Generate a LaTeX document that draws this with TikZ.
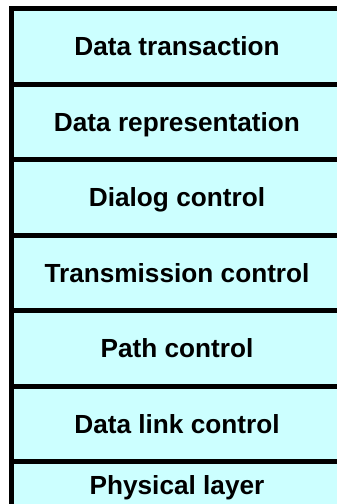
\documentclass[tikz,border=0pt]{standalone}
\usepackage{fontspec}
\setmainfont{Liberation Sans}
\definecolor{hellblau}{RGB}{204,255,255}

\begin{document}
\begin{tikzpicture}[x=1pt,y=1pt]

\def\hh{75.5}
\def\mx{177}
\tikzset{layerbox/.style={draw=black,line width=5pt,fill=hellblau},
	layertext/.style={inner sep=0pt,font=\fontsize{26.2}{30}\selectfont\bfseries,
	text height=18.8pt,text depth=0pt}}
\def\schicht#1#2#3{
\draw[layerbox] (11.5,{-8.5-#1*\hh}) rectangle (370,{-8.5-(#1+1)*\hh});
\node[layertext] (#2) at (\mx,{-8.5-(#1+0.5)*\hh}) {#3};
}

\useasboundingbox (0,0) rectangle (337,-504);
\clip (0,0) rectangle (337,-504);

\schicht{0}{trans}{Data transaction}
\schicht{1}{repr}{Data representation}
\schicht{2}{dialog}{Dialog control}
\schicht{3}{transm}{Transmission control}
\schicht{4}{path}{Path control}
\schicht{5}{link}{Data link control}

% unterste Schicht, nur oben sichtbar
\draw[layerbox] (11.5,{-8.5-6*\hh}) rectangle (370,-560);
\node[layertext] (phys) at (\mx,-485.5) {Physical layer};

\end{tikzpicture}
\end{document}
